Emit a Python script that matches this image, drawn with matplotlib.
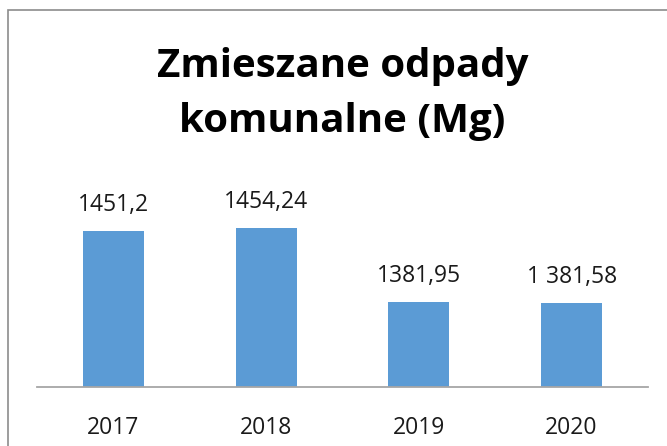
import matplotlib
matplotlib.use('Agg')
import matplotlib.pyplot as plt
from matplotlib.patches import Rectangle

years = ['2017', '2018', '2019', '2020']
values = [1451.2, 1454.24, 1381.95, 1381.58]
labels = ['1451,2', '1454,24', '1381,95', '1 381,58']

plt.rcParams['font.family'] = ['Open Sans', 'DejaVu Sans']

fig = plt.figure(figsize=(6.67, 4.46), dpi=100)
# chart border (only left and top visible, cropped at right/bottom)
fig.patches.append(Rectangle((8 / 667, -0.1), 1.2, (446 - 10) / 446 + 0.1,
                             transform=fig.transFigure, fill=False,
                             edgecolor='#8c8c8c', linewidth=1.2))

ax = fig.add_axes([37 / 667, (446 - 386.7) / 446, 611 / 667, 206 / 446])
bars = ax.bar(years, values, width=0.4, color='#5B9BD5')
ax.set_ylim(1300, 1500)
ax.set_xlim(-0.5, 3.5)
for b, lab in zip(bars, labels):
    ax.annotate(lab, (b.get_x() + b.get_width() / 2, b.get_height()),
                xytext=(0, 10), textcoords='offset points',
                ha='center', va='bottom', fontsize=16.5, color='#1a1a1a')

for s in ['left', 'right', 'top']:
    ax.spines[s].set_visible(False)
ax.spines['bottom'].set_color('#a6a6a6')
ax.spines['bottom'].set_linewidth(1.3)
ax.set_yticks([])
ax.tick_params(axis='x', length=0, pad=21, labelsize=16.5, labelcolor='#1a1a1a')

# title, two lines placed by baseline
fig.text(342.5 / 667, 1 - 77 / 446, 'Zmieszane odpady', ha='center', va='baseline',
         fontsize=29, fontweight='bold', color='black')
fig.text(342.5 / 667, 1 - 132 / 446, 'komunalne (Mg)', ha='center', va='baseline',
         fontsize=29, fontweight='bold', color='black')

fig.savefig('out.png', dpi=100)
